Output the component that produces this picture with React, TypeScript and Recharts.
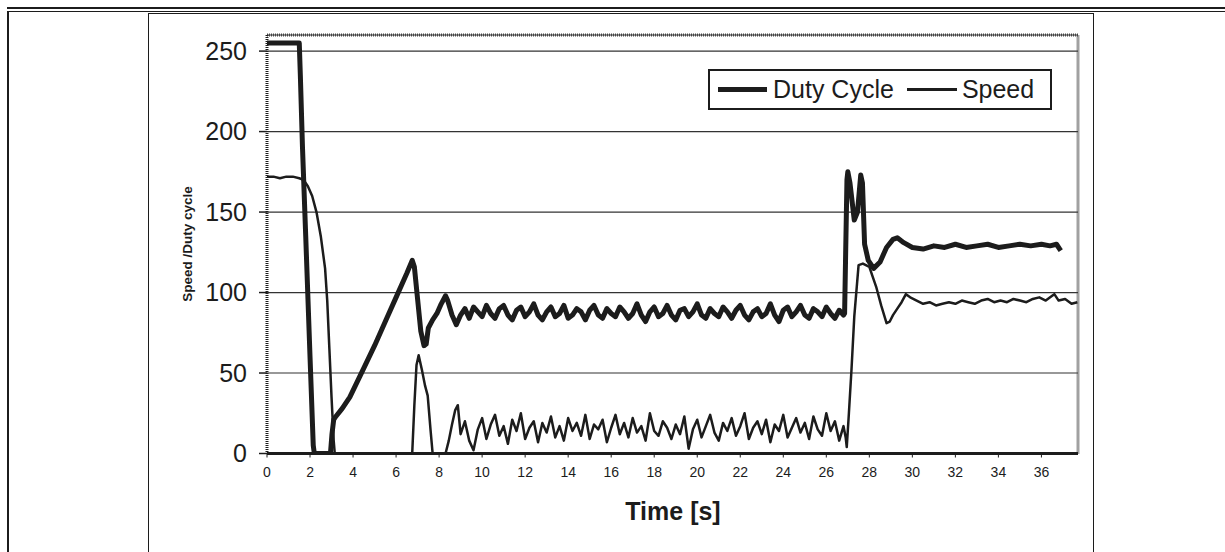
import { LineChart, Line, XAxis, YAxis, CartesianGrid, ReferenceLine } from 'recharts';

// Duty cycle trace (thick line), time in seconds
const dutyTime = [
  0, 1.5, 1.55, 1.65, 1.8, 2.0, 2.15, 2.2, 2.95, 3.02, 3.1, 3.2, 3.5, 3.85, 4.5, 5.0, 5.5, 6.0, 6.5, 6.75,
  6.85, 7.0, 7.15, 7.3, 7.4, 7.5, 7.7, 7.9, 8.1, 8.3, 8.4, 8.6, 8.8,
  9.0, 9.2, 9.4, 9.6, 9.8, 10.0, 10.2, 10.4, 10.6, 10.8,
  11.0, 11.2, 11.4, 11.6, 11.8, 12.0, 12.2, 12.4, 12.6, 12.8,
  13.0, 13.2, 13.4, 13.6, 13.8, 14.0, 14.2, 14.4, 14.6, 14.8,
  15.0, 15.2, 15.4, 15.6, 15.8, 16.0, 16.2, 16.4, 16.6, 16.8,
  17.0, 17.2, 17.4, 17.6, 17.8, 18.0, 18.2, 18.4, 18.6, 18.8,
  19.0, 19.2, 19.4, 19.6, 19.8, 20.0, 20.2, 20.4, 20.6, 20.8,
  21.0, 21.2, 21.4, 21.6, 21.8, 22.0, 22.2, 22.4, 22.6, 22.8,
  23.0, 23.2, 23.4, 23.6, 23.8, 24.0, 24.2, 24.4, 24.6, 24.8,
  25.0, 25.2, 25.4, 25.6, 25.8, 26.0, 26.2, 26.4, 26.6, 26.8,
  26.85, 26.9, 26.96, 27.0, 27.1, 27.3, 27.45, 27.6, 27.68, 27.78, 27.95, 28.2, 28.5, 28.8, 29.1, 29.3, 29.6,
  30.0, 30.5, 31.0, 31.5, 32.0, 32.5, 33.0, 33.5, 34.0, 34.5, 35.0, 35.5, 36.0, 36.4, 36.7, 36.85, 36.9,
];
const dutyValue = [
  255, 255, 235, 190, 135, 60, 5, 0, 0, 12, 21, 23, 28, 35, 53, 67, 82, 97, 112, 120,
  116, 96, 76, 67, 68, 78, 83, 87, 93, 98, 95, 86, 80,
  86, 90, 84, 91, 88, 85, 92, 87, 84, 90,
  92, 86, 83, 89, 91, 85, 88, 93, 86, 83,
  88, 91, 85, 87, 92, 84, 86, 90, 88, 83,
  89, 92, 86, 84, 90, 87, 85, 91, 88, 84,
  87, 93, 86, 82, 88, 91, 85, 87, 92, 86,
  83, 89, 90, 85, 88, 93, 86, 84, 90, 87,
  85, 91, 88, 84, 89, 92, 86, 83, 88, 90,
  85, 87, 93, 86, 82, 89, 91, 85, 88, 92,
  86, 84, 90, 88, 85, 91, 87, 84, 89, 86,
  87, 125, 170, 175, 168, 145, 150, 173, 168, 130, 120, 115, 119, 128, 133, 134, 131,
  128, 127, 129, 128, 130, 128, 129, 130, 128, 129, 130, 129, 130, 129, 130, 127, 126,
];

// Speed trace (thin line)
const speedTime = [
  0, 0.3, 0.6, 0.9, 1.2, 1.5, 1.7, 1.9, 2.1, 2.3, 2.5, 2.7, 2.8, 2.9, 3.0, 3.1, 3.15,
  6.75, 6.85, 6.95, 7.05, 7.2, 7.35, 7.47, 7.6, 7.7, 8.3, 8.45, 8.6, 8.75, 8.87,
  9.0, 9.2, 9.4, 9.6, 9.8, 10.0, 10.2, 10.4, 10.6, 10.8,
  11.0, 11.2, 11.4, 11.6, 11.8, 12.0, 12.2, 12.4, 12.6, 12.8,
  13.0, 13.2, 13.4, 13.6, 13.8, 14.0, 14.2, 14.4, 14.6, 14.8,
  15.0, 15.2, 15.4, 15.6, 15.8, 16.0, 16.2, 16.4, 16.6, 16.8,
  17.0, 17.2, 17.4, 17.6, 17.8, 18.0, 18.2, 18.4, 18.6, 18.8,
  19.0, 19.2, 19.4, 19.6, 19.8, 20.0, 20.2, 20.4, 20.6, 20.8,
  21.0, 21.2, 21.4, 21.6, 21.8, 22.0, 22.2, 22.4, 22.6, 22.8,
  23.0, 23.2, 23.4, 23.6, 23.8, 24.0, 24.2, 24.4, 24.6, 24.8,
  25.0, 25.2, 25.4, 25.6, 25.8, 26.0, 26.2, 26.4, 26.6, 26.8,
  26.9, 26.95, 27.05, 27.17, 27.3, 27.5, 27.7, 28.0, 28.15, 28.33, 28.55, 28.8, 28.95, 29.1, 29.3, 29.5, 29.7, 29.9,
  30.2, 30.5, 30.8, 31.1, 31.4, 31.7, 32.0, 32.3, 32.6, 32.9, 33.2, 33.5, 33.8, 34.1, 34.4, 34.7,
  35.0, 35.3, 35.6, 35.9, 36.2, 36.5, 36.6, 36.8, 37.1, 37.4, 37.67,
];
const speedValue = [
  172, 172, 171, 172, 172, 171, 170, 166, 160, 150, 135, 115, 95, 65, 35, 8, 0,
  0, 30, 55, 61, 52, 42, 36, 15, 0, 0, 8, 18, 27, 30,
  12, 20, 8, 2, 15, 22, 9, 18, 24, 11,
  17, 6, 21, 14, 25, 9, 16, 20, 7, 19,
  13, 23, 10, 17, 8, 22, 14, 19, 11, 24,
  9, 18, 15, 21, 7, 16, 24, 12, 19, 10,
  22, 13, 17, 8, 25, 14, 11, 20, 16, 9,
  18, 12, 23, 3, 15, 21, 10, 17, 24, 13,
  8, 19, 14, 22, 11, 17, 25, 9, 16, 20,
  12, 21, 7, 18, 14, 24, 10, 16, 22, 13,
  19, 9, 23, 15, 11, 25, 14, 20, 8, 17,
  10, 4, 25, 52, 85, 117, 118, 116, 110, 103, 92, 81, 82, 86, 90, 94, 99, 97,
  95, 93, 94, 92, 93, 94, 93, 95, 94, 93, 95, 96, 94, 95, 94, 96,
  95, 94, 96, 97, 95, 98, 99, 95, 96, 93, 94,
];

const xTicks = [0, 2, 4, 6, 8, 10, 12, 14, 16, 18, 20, 22, 24, 26, 28, 30, 32, 34, 36];
const yTicks = [0, 50, 100, 150, 200, 250];

const dutyData = dutyTime.map((t, i) => ({ t, v: dutyValue[i] }));
const speedData = speedTime.map((t, i) => ({ t, v: speedValue[i] }));

const INK = '#1c1c1c';
const FONT = '"Liberation Sans", Arial, sans-serif';

export default function App() {
  return (
    <div style={{
      position: 'absolute', left: 0, top: 0, width: 1225, height: 552,
      background: '#fff', overflow: 'hidden', fontFamily: FONT, color: INK,
    }}>
      {/* page frame */}
      <div style={{ position: 'absolute', left: 7, top: 7, width: 1218, height: 2, background: INK }} />
      <div style={{ position: 'absolute', left: 7, top: 11, width: 1218, height: 1, background: INK }} />
      <div style={{ position: 'absolute', left: 7, top: 11, width: 2, height: 545, background: INK }} />
      {/* chart area box */}
      <div style={{
        position: 'absolute', left: 148, top: 13, width: 944, height: 600,
        border: `1.5px solid ${INK}`,
      }} />

      <div style={{ position: 'absolute', left: 149, top: 13 }}>
        <LineChart width={945} height={539}
          margin={{ top: 22, right: 16, left: 30, bottom: 68.5 }}>
          <CartesianGrid horizontal vertical={false} stroke="#333" strokeWidth={1.2} />
          <XAxis
            type="number"
            dataKey="t"
            domain={[0, 37.7]}
            ticks={xTicks}
            allowDataOverflow
            height={30}
            tick={{ fontSize: 14, fill: INK, fontFamily: FONT }}
            tickSize={4}
            tickMargin={10}
            tickLine={{ stroke: INK }}
            axisLine={{ stroke: INK, strokeWidth: 3 }}
          />
          <YAxis
            type="number"
            domain={[0, 260]}
            ticks={yTicks}
            allowDataOverflow
            width={88}
            tick={{ fontSize: 25, fill: INK, fontFamily: FONT }}
            tickSize={8}
            tickMargin={12}
            tickLine={{ stroke: INK, strokeWidth: 1.5 }}
            axisLine={{ stroke: INK, strokeWidth: 3, strokeDasharray: '1 1' }}
          />
          <ReferenceLine y={260} stroke="#444" strokeWidth={3} strokeDasharray="1 1" />
          <ReferenceLine x={37.7} stroke="#444" strokeWidth={3} strokeDasharray="1 1" />
          <Line
            data={dutyData}
            dataKey="v"
            name="Duty Cycle"
            type="linear"
            stroke={INK}
            strokeWidth={5}
            strokeLinejoin="round"
            dot={false}
            isAnimationActive={false}
          />
          <Line
            data={speedData}
            dataKey="v"
            name="Speed"
            type="linear"
            stroke={INK}
            strokeWidth={2.5}
            strokeLinejoin="round"
            dot={false}
            isAnimationActive={false}
          />
        </LineChart>
      </div>

      {/* legend */}
      <div style={{
        position: 'absolute', left: 708, top: 69, width: 340, height: 37,
        border: `2px solid ${INK}`, display: 'flex', alignItems: 'center',
        fontSize: 25, whiteSpace: 'nowrap',
      }}>
        <span style={{ display: 'inline-block', width: 49, height: 5, background: INK, marginLeft: 8, marginRight: 6 }} />
        <span>Duty Cycle</span>
        <span style={{ display: 'inline-block', width: 50, height: 2.5, background: INK, marginLeft: 13, marginRight: 5 }} />
        <span>Speed</span>
      </div>

      {/* axis titles */}
      <div style={{
        position: 'absolute', left: 187, top: 244, transform: 'translate(-50%, -50%) rotate(-90deg)',
        fontSize: 13.5, fontWeight: 'bold', whiteSpace: 'nowrap',
      }}>
        Speed /Duty cycle
      </div>
      <div style={{
        position: 'absolute', left: 673, top: 511, transform: 'translate(-50%, -50%)',
        fontSize: 25, fontWeight: 'bold', whiteSpace: 'nowrap',
      }}>
        Time [s]
      </div>
    </div>
  );
}
